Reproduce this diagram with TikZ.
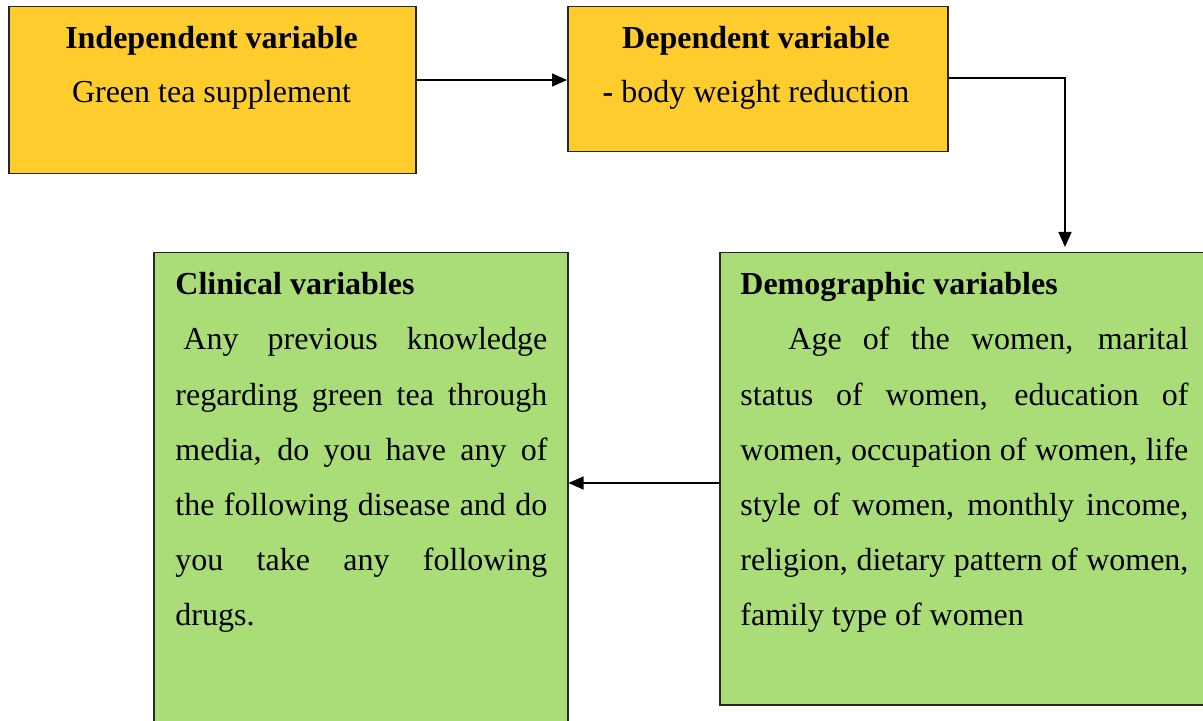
\documentclass[tikz,border=0pt]{standalone}
\usepackage{fontspec}
\setmainfont{Liberation Serif}
\usetikzlibrary{arrows.meta}
\definecolor{boxyellow}{RGB}{255,204,46}
\definecolor{boxgreen}{RGB}{170,220,120}
\tikzset{
  box/.style={draw=black!85, line width=0.75pt, anchor=north west, inner sep=0pt},
  ybox/.style={box, fill=boxyellow},
  gbox/.style={box, fill=boxgreen},
  arr/.style={line width=0.75pt, -{Triangle[length=7.5pt,width=6.5pt]}},
  txt/.style={inner sep=0pt, font=\fontsize{16}{20}\selectfont},
  line/.style={txt, anchor=base west},
  head/.style={txt, anchor=base west, font=\fontsize{16}{20}\selectfont\bfseries},
}
\begin{document}
\begin{tikzpicture}[x=0.5pt, y=-0.5pt]
\useasboundingbox (0,0) rectangle (1203,721);
% boxes
\node[ybox, minimum width=203.5pt, minimum height=83.5pt] (ind) at (8,6) {};
\node[ybox, minimum width=190pt, minimum height=72.5pt] (dep) at (567,6) {};
\node[gbox, minimum width=207pt, minimum height=240pt] (cli) at (153,252) {};
\node[gbox, minimum width=245pt, minimum height=226pt] (dem) at (719,252) {};
% top texts
\node[txt, anchor=base, font=\fontsize{16}{20}\selectfont\bfseries] (indh) at (211.5,48.5) {Independent variable};
\node[txt, anchor=base] (indt) at (211.5,102.5) {Green tea supplement};
\node[txt, anchor=base, font=\fontsize{16}{20}\selectfont\bfseries] (deph) at (756,48.5) {Dependent variable};
\node[txt, anchor=base] (dept) at (756,102.5) {{\bfseries -} body weight reduction};
% clinical
\node[head] (clih) at (175,295) {Clinical variables};
\node[line] (cl1) at (183,350) {\makebox[182pt][s]{Any previous knowledge}};
\node[line] (cl2) at (175,405) {\makebox[186pt][s]{regarding green tea through}};
\node[line] (cl3) at (175,460) {\makebox[186pt][s]{media, do you have any of}};
\node[line] (cl4) at (175,515) {\makebox[186pt][s]{the following disease and do}};
\node[line] (cl5) at (175,570) {\makebox[186pt][s]{you take any following}};
\node[line] (cl6) at (175,625) {drugs.};
% demographic
\node[head] (demh) at (740,295) {Demographic variables};
\node[line] (dm1) at (788,350) {\makebox[200pt][s]{Age of the women, marital}};
\node[line] (dm2) at (740,405) {\makebox[224pt][s]{status of women, education of}};
\node[line] (dm3) at (740,460) {\makebox[224pt][s]{women, occupation of women, life}};
\node[line] (dm4) at (740,515) {\makebox[224pt][s]{style of women, monthly income,}};
\node[line] (dm5) at (740,570) {\makebox[224pt][s]{religion, dietary pattern of women,}};
\node[line] (dm6) at (740,625) {family type of women};
% connectors
\coordinate (a1) at (0,80);
\coordinate (bend) at (1065,78);
\coordinate (a3) at (0,483);
\draw[arr] (ind.east |- a1) -- (dep.west |- a1);
\draw[arr, shorten >=2.5pt] (dep.east |- bend) -- (bend) -- (bend |- dem.north);
\draw[arr] (dem.west |- a3) -- (cli.east |- a3);
\end{tikzpicture}
\end{document}
